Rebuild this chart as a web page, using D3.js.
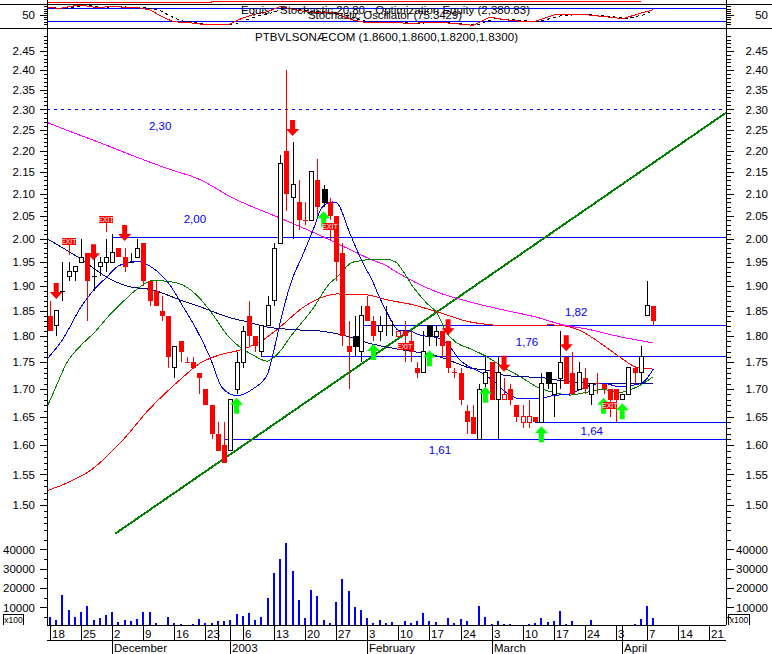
<!DOCTYPE html>
<html><head><meta charset="utf-8">
<script src="https://cdn.jsdelivr.net/npm/d3@7"></script>
<style>
html,body{margin:0;padding:0;background:#fff;overflow:hidden}
svg{display:block}
text{font-family:"Liberation Sans",Arial,sans-serif;fill:#000}
.crisp{shape-rendering:crispEdges}
.domain{display:none}
</style></head><body>
<svg id="c" width="772" height="654"></svg>
<script>
// ---- Data ----
const opens=[1.84,1.82,1.89,1.92,1.93,1.95,1.97,1.92,1.94,1.95,1.95,1.98,1.96,1.95,1.96,1.99,1.91,1.89,1.85,1.84,1.74,1.79,1.75,1.75,1.73,1.70,1.67,1.62,1.60,1.59,1.70,1.75,1.84,1.80,1.77,1.82,1.87,1.99,2.20,2.09,2.08,2.04,2.04,2.13,2.11,2.08,2.05,1.97,1.78,1.80,1.77,1.86,1.83,1.81,1.82,1.82,1.81,1.81,1.79,1.74,1.73,1.82,1.80,1.81,1.79,1.73,1.73,1.66,1.65,1.61,1.71,1.75,1.68,1.69,1.70,1.67,1.65,1.65,1.65,1.64,1.73,1.69,1.72,1.76,1.73,1.70,1.72,1.69,1.71,1.71,1.70,1.70,1.68,1.69,1.74,1.73,1.84,1.86];
const highs=[1.87,1.85,1.95,1.95,1.94,2.00,1.97,1.96,1.96,2.00,2.01,1.98,1.98,1.97,2.00,1.99,1.91,1.91,1.88,1.84,1.78,1.79,1.76,1.76,1.73,1.70,1.67,1.64,1.64,1.68,1.77,1.82,1.87,1.80,1.82,1.88,1.99,2.19,2.40,2.22,2.13,2.08,2.15,2.18,2.12,2.09,2.05,1.99,1.83,1.84,1.86,1.88,1.84,1.84,1.86,1.83,1.81,1.83,1.81,1.75,1.81,1.82,1.82,1.81,1.79,1.74,1.74,1.67,1.67,1.71,1.76,1.75,1.76,1.72,1.71,1.67,1.67,1.68,1.65,1.73,1.73,1.71,1.81,1.76,1.77,1.75,1.74,1.71,1.73,1.71,1.70,1.70,1.69,1.74,1.74,1.78,1.91,1.86];
const lows=[1.81,1.80,1.87,1.91,1.91,1.95,1.83,1.89,1.92,1.93,1.95,1.96,1.93,1.95,1.96,1.90,1.86,1.86,1.83,1.74,1.72,1.75,1.75,1.74,1.69,1.67,1.61,1.59,1.57,1.59,1.69,1.74,1.78,1.77,1.76,1.82,1.86,1.99,2.06,2.00,2.02,2.03,2.04,2.05,2.07,2.04,1.91,1.78,1.70,1.76,1.75,1.83,1.79,1.79,1.80,1.80,1.80,1.75,1.75,1.72,1.73,1.78,1.78,1.76,1.73,1.72,1.67,1.62,1.62,1.61,1.69,1.68,1.61,1.68,1.67,1.64,1.63,1.63,1.64,1.64,1.70,1.65,1.70,1.71,1.69,1.70,1.69,1.67,1.69,1.69,1.65,1.64,1.68,1.69,1.71,1.71,1.84,1.82];
const closes=[1.81,1.85,1.89,1.93,1.94,1.96,1.91,1.92,1.95,1.96,1.97,1.96,1.94,1.95,1.98,1.91,1.87,1.86,1.84,1.76,1.78,1.77,1.75,1.74,1.72,1.67,1.62,1.59,1.57,1.68,1.75,1.81,1.80,1.78,1.82,1.86,1.98,2.17,2.10,2.12,2.04,2.04,2.15,2.07,2.08,2.05,1.95,1.80,1.77,1.78,1.84,1.83,1.80,1.82,1.82,1.82,1.80,1.80,1.77,1.73,1.77,1.80,1.81,1.78,1.74,1.73,1.68,1.64,1.62,1.70,1.73,1.68,1.73,1.68,1.68,1.65,1.64,1.64,1.64,1.71,1.71,1.71,1.75,1.71,1.69,1.73,1.70,1.71,1.71,1.70,1.68,1.68,1.69,1.74,1.73,1.76,1.86,1.83];
const volumes=[5000,3500,16500,8500,5000,7500,10700,3500,4500,6000,7500,2500,3500,3000,4000,7500,7500,2000,1000,5000,2000,1200,800,1200,4000,2200,2000,3000,3000,3500,6500,5500,7000,3500,5000,15000,28000,35000,43500,29000,14000,4500,18800,16000,3500,2200,12800,24500,18500,10200,8700,4500,2200,3500,2000,2500,800,3000,2200,3000,7000,3000,2500,1000,4500,2200,4000,3000,1000,10700,5000,1700,3000,1200,1700,800,800,1700,2200,4500,2500,3000,8000,1700,3000,800,700,3500,1000,700,700,1000,0,1000,1700,4000,10500,4500];
const blackCandleDays=[44,49,61,80];
const hollowRedDays=[56,73,76,77];
const blackDojiDays=[2,7,13,54,55];

const maFastDays=[-0.5,2,5,7,9,11,14,16.5,19.3,21.4,23.6,25.7,27.7,30,32.6,34.9,36,37.3,38.9,40.5,42.3,43.7,45.4,46.1,48.2,50.3,51.8,52.6,54.2,56,57.9,59.5,62.2,64.3,65.9,67.5,69.1,71.2,73.2,75.6,78.3,80.9,83.6,85.7,88.9,91.6,93.7,95.2,97];
const maFastVals=[1.756,1.793,1.858,1.892,1.917,1.942,1.952,1.938,1.902,1.858,1.812,1.76,1.702,1.688,1.70,1.726,1.773,1.842,1.913,1.961,2.019,2.068,2.081,2.079,2.012,1.948,1.912,1.888,1.846,1.812,1.81,1.802,1.797,1.779,1.754,1.741,1.732,1.716,1.695,1.682,1.682,1.688,1.691,1.702,1.711,1.704,1.707,1.711,1.737];
const maMidDays=[-0.5,1.1,2.7,4.8,7.2,9.6,11.7,14.5,16.6,18.8,21.4,24.1,26.2,28.5,30.5,32.6,34.9,35.9,37,38.6,42.3,45,46.1,48.7,52.6,54,55.6,56.6,58.4,60.6,62.2,63.8,65.4,67.5,70.3,72.8,75.6,78.3,80.9,83.6,86.3,88.9,91.6,94.4,97];
const maMidVals=[1.667,1.708,1.749,1.78,1.808,1.842,1.868,1.899,1.912,1.91,1.902,1.875,1.842,1.802,1.779,1.764,1.752,1.758,1.771,1.798,1.855,1.906,1.918,1.95,1.956,1.956,1.95,1.934,1.898,1.865,1.846,1.806,1.787,1.776,1.76,1.741,1.723,1.704,1.694,1.689,1.694,1.699,1.694,1.704,1.723];
const maNavyDays=[-0.5,4.8,9.2,12.4,16.6,20.9,24.6,28.5,31.7,34.9,40.2,43.4,47.1,51.4,56.8,62.2,65.4,67.5,70.3,72.8,75.6,79.1,82.5,86.3,88.9,97];
const maNavyVals=[2.00,1.958,1.918,1.90,1.892,1.872,1.856,1.838,1.828,1.818,1.812,1.81,1.802,1.786,1.773,1.762,1.748,1.739,1.735,1.726,1.723,1.721,1.715,1.711,1.711,1.711];
const maRedDays=[-0.5,3.2,6.4,11.3,16.1,20.9,24.1,27.3,30.5,33.8,37,40.6,43.9,46.1,51,54.2,58.4,62.2,67.5,69.6,74,80.9,83.6,85.7,88.9,91.6,94.4,97];
const maRedVals=[1.523,1.538,1.556,1.604,1.665,1.717,1.748,1.764,1.773,1.789,1.818,1.856,1.878,1.884,1.882,1.872,1.862,1.848,1.828,1.824,1.82,1.822,1.818,1.808,1.783,1.76,1.74,1.737];
const maMagentaDays=[-0.5,2.7,8,13.3,18.8,24.1,29.4,37,42.3,47.7,51.9,54,55.1,62.2,67.5,72.8,78.3,82.5,86.3,91.6,97];
const maMagentaVals=[2.268,2.249,2.219,2.188,2.158,2.132,2.09,2.045,2.014,1.98,1.954,1.943,1.934,1.888,1.868,1.852,1.837,1.822,1.814,1.799,1.787];

const trendDays=[10.5,108.7];
const trendVals=[1.454,2.292];

const levelVals=[2.30,2.003,1.82,1.76,1.64,1.61];
const levelStart=[-0.5,10,50.2,34,78,28];
const levelLast=108.7;
const levelNames=["2,30","2,00","1,82","1,76","1,64","1,61"];
const levelLabelDays=[17.7,23.3,84.6,76.7,87.1,62.7];
const levelLabelVals=[2.26,2.043,1.848,1.789,1.625,1.591];

const sellDays=[1,7,12,39,64,73,83];
const sellVals=[1.874,1.954,1.995,2.235,1.802,1.732,1.771];
const buyDays=[30,44,52,61,70,79,89,92];
const buyVals=[1.684,2.06,1.785,1.773,1.704,1.633,1.684,1.674];
const exitDays=[3,9,45,57,90];
const exitVals=[1.993,2.042,2.027,1.78,1.67];
const exitStemVals=[1.965,2.015,1.997,1.78,1.67];

const stochDays=[-0.5,1.6,3.7,5.3,7.2,10.5,14.5,16.1,17.7,19.8,22.5,25.2,28.9,30.5,32.6,34.9,37,41.3,45.5,48.7,50.3,54.7,58.4,62.2,68,70.7,74.4,77.7,81.5,85.7,92.1,94.9,97];
const stochVals=[84.6,80.9,91.5,94.7,85.5,88.2,82.3,73,46.8,19.1,14.5,3.9,7.1,30.2,51.4,65.2,88.2,63.8,60.6,27,17.7,14.5,11.8,17.7,2.5,39.4,23.7,17.7,54.6,53.2,33,57.8,74.4];
const signalDays=[-0.5,2.4,4.5,6.1,8,11.3,15.3,17.5,19,21,23.3,26,29.7,31.3,33.4,35.7,37.8,42.1,46.3,49.5,51.1,55.5,59.2,63,68.8,71.5,75.2,78.5,82.3,86.5,92.9,95.7,97];
const signalVals=[84,81,90,94,86,88,83,75,50,24,15,5,6,24,46,60,83,66,62,31,19,15,12,16,4,33,27,19,48,53,35,52,71];
const stochLevels=[80,20];
const equityDays=[-0.5,26,26,95];
const equityVals=[2250,2250,2330,2380.83];

const priceMajor=[2.45,2.40,2.35,2.30,2.25,2.20,2.15,2.10,2.05,2.00,1.95,1.90,1.85,1.80,1.75,1.70,1.65,1.60,1.55,1.50];
const volumeMajor=[10000,20000,30000,40000];
const volumeMinor=[5000,15000,25000,35000,45000];
const stochMajor=[50];
const stochMinor=[10,20,30,40,60,70,80,90];

const dayTicks=[0,5,10,15,20,25,27,29,31,36,41,46,51,56,61,66,71,76,81,86,91,92,96,101,106];
const dayLabels=["18","25","2","9","16","23","","","6","13","20","27","3","10","17","24","3","10","17","24","3","","7","14","21"];
const monthTicks=[10,29,51,71,92];
const monthLabels=["December","2003","February","March","April"];

const titleText="PTBVLSONÆCOM (1.8600,1.8600,1.8200,1.8300)";
const equityText="Equis - Stochastic 20,80 - Optimization Equity (2,380.83)";
const stochText="Stochastic Oscillator (75.3429)";

// ---- Scales ----
const svg=d3.select("#c");
const L=47,R=726,W=772;
const x=d3.scaleLinear().domain([0,106]).range([50,709.3]);
const y=d3.scaleLog().domain([2.45,1.5]).range([51,504.8]);
const yv=d3.scaleLinear().domain([0,50000]).range([626.8,530.1]);
const ys=d3.scaleLinear().domain([20,80]).range([21.5,8.5]);
const ye=d3.scaleLinear().domain([2250,2380.83]).range([2.4,1.3]);
const BLUE="#0000ff",RED="#ff0000",GREEN="#008000",NAVY="#000080",MAG="#ff00ff",LIME="#00ff00";

const px=v=>Math.round(v);
const plot=svg.append("g");

// ---- Stochastic pane ----
const paneTop=plot.append("g");
paneTop.selectAll("line.lv").data(stochLevels).join("line").attr("class","crisp")
  .attr("x1",L).attr("x2",R).attr("y1",d=>ys(d)).attr("y2",d=>ys(d)).attr("stroke",BLUE);
const seriesLine=(xs,ys0,ky)=>d3.line().x((d,i)=>x(xs[i])).y(d=>ky(d))(ys0);
paneTop.append("path").attr("class","crisp").attr("d",seriesLine(signalDays,signalVals,ys)).attr("fill","none").attr("stroke","#000").attr("stroke-dasharray","3 3");
paneTop.append("path").attr("class","crisp").attr("d",seriesLine(stochDays,stochVals,ys)).attr("fill","none").attr("stroke",RED);
paneTop.append("path").attr("class","crisp").attr("d",d3.line().x((d,i)=>x(equityDays[i])).y(d=>ye(d))(equityVals)).attr("fill","none").attr("stroke",RED);
paneTop.append("text").attr("x",241).attr("y",14).attr("font-size",11.5).attr("textLength",289).text(equityText);
paneTop.append("text").attr("x",308).attr("y",18.5).attr("font-size",11.5).attr("textLength",154).text(stochText);

// ---- Levels ----
levelVals.forEach((v,i)=>{
  plot.append("line").attr("class","crisp").attr("x1",Math.max(L,x(levelStart[i]))).attr("x2",x(levelLast))
    .attr("y1",y(v)).attr("y2",y(v)).attr("stroke",BLUE)
    .attr("stroke-dasharray",i===0?"3 4":null);
  plot.append("text").attr("x",x(levelLabelDays[i])).attr("y",y(levelLabelVals[i])).attr("dy","0.36em")
    .attr("text-anchor","middle").attr("font-size",11.5).style("fill",BLUE).text(levelNames[i]);
});

// ---- Trend line ----
plot.append("path").attr("class","crisp").attr("fill","none").attr("stroke",GREEN).attr("stroke-width",2)
  .attr("d",d3.line().x((d,i)=>x(trendDays[i])).y(d=>y(d))(trendVals));

// ---- Moving averages ----
[[maRedDays,maRedVals,RED],[maMagentaDays,maMagentaVals,MAG],[maMidDays,maMidVals,GREEN],
 [maNavyDays,maNavyVals,NAVY],[maFastDays,maFastVals,BLUE]].forEach(([ds,vs,col])=>{
  plot.append("path").attr("class","crisp").attr("fill","none").attr("stroke",col)
    .attr("d",d3.line().curve(d3.curveMonotoneX).x((d,i)=>Math.max(L,x(ds[i]))).y(d=>y(d))(vs));
});

// ---- Candles ----
const candles=opens.map((o,i)=>({i,o,h:highs[i],l:lows[i],c:closes[i]}));
const isUp=d=>d.c>d.o;
const wickCol=d=>{
  if(blackCandleDays.includes(d.i)||blackDojiDays.includes(d.i)||isUp(d))return "#000";
  return RED;
};
const cg=plot.append("g").attr("class","crisp");
cg.selectAll("line.w").data(candles).join("line")
  .attr("x1",d=>px(x(d.i))+.5).attr("x2",d=>px(x(d.i))+.5)
  .attr("y1",d=>y(d.h)).attr("y2",d=>y(d.l)).attr("stroke",wickCol);
cg.selectAll("rect.b").data(candles.filter(d=>d.o!==d.c)).join("rect")
  .attr("x",d=>px(x(d.i))-2+(isUp(d)||hollowRedDays.includes(d.i)?0.5:0))
  .attr("width",d=>isUp(d)||hollowRedDays.includes(d.i)?4:5)
  .attr("y",d=>y(Math.max(d.o,d.c))).attr("height",d=>Math.max(1,y(Math.min(d.o,d.c))-y(Math.max(d.o,d.c))))
  .attr("fill",d=>blackCandleDays.includes(d.i)?"#000":(isUp(d)||hollowRedDays.includes(d.i)?"#fff":RED))
  .attr("stroke",d=>blackCandleDays.includes(d.i)||isUp(d)?"#000":(hollowRedDays.includes(d.i)?RED:"none"));
cg.selectAll("line.d").data(candles.filter(d=>d.o===d.c)).join("line")
  .attr("x1",d=>px(x(d.i))-2).attr("x2",d=>px(x(d.i))+3)
  .attr("y1",d=>y(d.c)).attr("y2",d=>y(d.c)).attr("stroke",wickCol);

// ---- Signals ----
const sellShape="M-2.5,-16H2.5V-7H6.5L0,0L-6.5,-7H-2.5Z";
const buyShape="M-2.5,16H2.5V7H6.5L0,0L-6.5,7H-2.5Z";
plot.selectAll("path.sell").data(sellDays).join("path").attr("d",sellShape).attr("fill",RED)
  .attr("transform",(d,i)=>`translate(${x(d)},${y(sellVals[i])})`);
plot.selectAll("path.buy").data(buyDays).join("path").attr("d",buyShape).attr("fill",LIME)
  .attr("transform",(d,i)=>`translate(${x(d)},${y(buyVals[i])})`);
exitDays.forEach((d,i)=>{
  const cx=x(d),cy=y(exitVals[i]);
  plot.append("line").attr("class","crisp").attr("x1",px(cx)+.5).attr("x2",px(cx)+.5).attr("y1",cy).attr("y2",y(exitStemVals[i])).attr("stroke",RED).attr("stroke-width",1);
  plot.append("rect").attr("class","crisp").attr("x",cx-7).attr("y",cy-3.5).attr("width",14).attr("height",7).attr("fill",RED);
  plot.append("text").attr("x",cx).attr("y",cy+2.5).attr("text-anchor","middle").attr("font-size",7).style("fill","#fff").text("EXIT");
});

// ---- Title ----
plot.append("text").attr("x",255).attr("y",41).attr("font-size",11.5).attr("textLength",263).text(titleText);

// ---- Volume ----
plot.selectAll("rect.vol").data(volumes).join("rect").attr("class","crisp")
  .attr("x",(d,i)=>px(x(i))-1).attr("width",2)
  .attr("y",d=>yv(d)).attr("height",d=>Math.max(0,625-yv(d))).attr("fill",BLUE);

// ---- Frame ----
const frame=svg.append("g").attr("class","crisp");
[[L,0,L,625],[R,0,R,625],[0,4.5,W,4.5],[0,28.5,W,28.5],[L,625.5,R,625.5],[L,640.5,R,640.5]].forEach(a=>{
  frame.append("line").attr("x1",a[0]+.5*(a[0]===a[2])).attr("y1",a[1]).attr("x2",a[2]+.5*(a[0]===a[2])).attr("y2",a[3]).attr("stroke","#000");
});

// ---- Axes built by d3 ----
function axisPair(scale,major,minor,fmt){
  [[d3.axisLeft,L,-1],[d3.axisRight,R+1,1]].forEach(([ax,tx,sgn])=>{
    const gm=svg.append("g").attr("class","crisp").attr("transform",`translate(${tx},0)`)
      .call(ax(scale).tickValues(minor).tickSize(sgn<0?3:4).tickFormat(""));
    gm.selectAll("text").remove();
    const g=svg.append("g").attr("class","crisp").attr("transform",`translate(${tx},0)`)
      .call(ax(scale).tickValues(major).tickSize(7).tickFormat(fmt));
    g.selectAll("text").attr("font-size",11.5).attr("font-family",'"Liberation Sans",Arial,sans-serif')
      .attr("text-anchor","end").attr("x",sgn<0?-12:41);
  });
}
const minorPrices=d3.range(145,250).map(v=>v/100).filter(v=>y(v)>30&&y(v)<532);
axisPair(y,priceMajor,minorPrices,d3.format(".2f"));
axisPair(yv,volumeMajor,volumeMinor,d3.format("d"));
axisPair(ys,stochMajor,stochMinor,d3.format("d"));

// ---- x100 boxes ----
[[3,23],[728,749]].forEach(([a,b])=>{
  svg.append("path").attr("class","crisp").attr("fill","none").attr("stroke","#000").attr("d",`M${a+.5},625V614.5H${b+.5}V625`);
  svg.append("text").attr("x",(a+b)/2+.5).attr("y",623).attr("text-anchor","middle").attr("font-size",8.5).text("x100");
});

// ---- Date axis ----
const axTop=svg.append("g").attr("class","crisp").attr("transform","translate(0,625.5)")
  .call(d3.axisBottom(x).tickValues(dayTicks).tickSize(15).tickFormat(""));
axTop.selectAll("text").remove();
dayTicks.forEach((d,i)=>{
  svg.append("text").attr("x",px(x(d))+2).attr("y",637.5).attr("font-size",11.5).text(dayLabels[i]);
});
const axBot=svg.append("g").attr("class","crisp").attr("transform","translate(0,640.5)")
  .call(d3.axisBottom(x).tickValues(monthTicks).tickSize(14).tickFormat(""));
axBot.selectAll("text").remove();
monthTicks.forEach((d,i)=>{
  svg.append("text").attr("x",px(x(d))+2).attr("y",652).attr("font-size",11.5).text(monthLabels[i]);
});
svg.selectAll(".tick line").attr("stroke","#000");
</script>
</body></html>
